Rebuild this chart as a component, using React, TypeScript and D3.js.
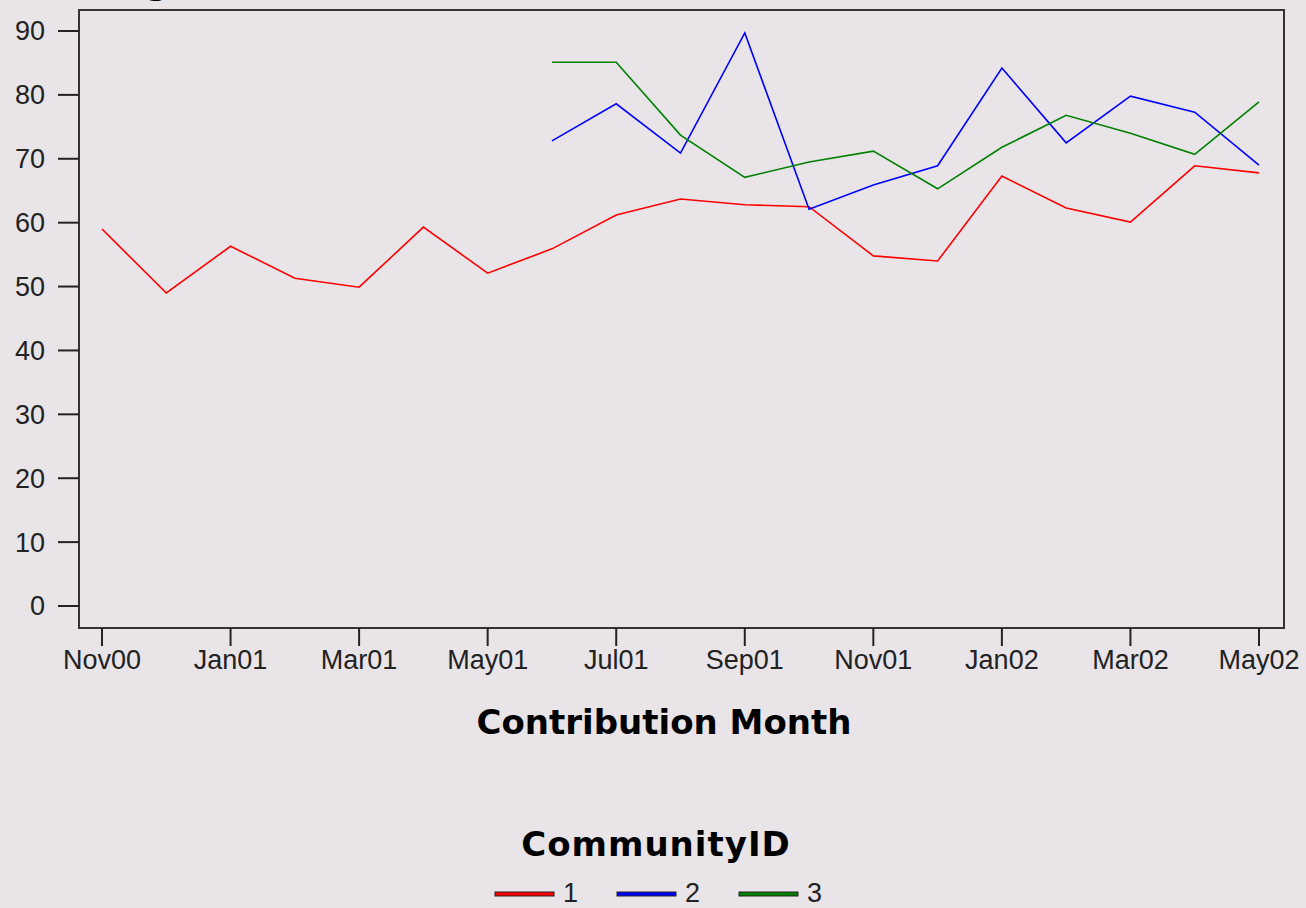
import React, { useEffect, useRef } from 'react';
import * as d3 from 'd3';

const months = ['Nov00', 'Dec00', 'Jan01', 'Feb01', 'Mar01', 'Apr01', 'May01', 'Jun01', 'Jul01', 'Aug01',
  'Sep01', 'Oct01', 'Nov01', 'Dec01', 'Jan02', 'Feb02', 'Mar02', 'Apr02', 'May02'];
const tickMonths = ['Nov00', 'Jan01', 'Mar01', 'May01', 'Jul01', 'Sep01', 'Nov01', 'Jan02', 'Mar02', 'May02'];
const yTicks = [0, 10, 20, 30, 40, 50, 60, 70, 80, 90];

const community1 = [59.0, 49.0, 56.3, 51.3, 49.9, 59.3, 52.1, 55.9, 61.2, 63.7, 62.8, 62.5, 54.8, 54.0, 67.3, 62.3, 60.1, 68.9, 67.8];
const community2 = [null, null, null, null, null, null, null, 72.8, 78.6, 70.9, 89.7, 62.1, 65.9, 68.9, 84.2, 72.5, 79.8, 77.3, 69.0];
const community3 = [null, null, null, null, null, null, null, 85.1, 85.1, 73.7, 67.1, 69.5, 71.2, 65.3, 71.8, 76.8, 74.0, 70.7, 78.9];

const seriesIds = ['1', '2', '3'];
const seriesColors = ['#ff0000', '#0000ff', '#008000'];

const W = 1306;
const H = 908;

const App: React.FC = () => {
  const svgRef = useRef<SVGSVGElement>(null);

  useEffect(() => {
    if (!svgRef.current) return;
    const svg = d3.select(svgRef.current);
    svg.selectAll('*').remove();

    const frame = { left: 79, top: 10, right: 1284, bottom: 628 };
    const x = d3.scalePoint<string>().domain(months).range([102, 1259]);
    const y = d3.scaleLinear().domain([0, 90]).range([606, 31]);

    const font = 'Liberation Sans, Arial, sans-serif';
    const boldFont = 'DejaVu Sans, Verdana, sans-serif';

    svg.append('rect').attr('width', W).attr('height', H).attr('fill', '#e8e4e8');

    // title, cut off at the top edge like in the source
    svg.append('text')
      .attr('x', 98).attr('y', -6)
      .attr('font-family', boldFont)
      .attr('font-weight', 'bold').attr('font-size', 34)
      .attr('fill', '#000')
      .text('Avg');

    // frame
    svg.append('rect')
      .attr('x', frame.left).attr('y', frame.top)
      .attr('width', frame.right - frame.left).attr('height', frame.bottom - frame.top)
      .attr('fill', 'none').attr('stroke', '#333').attr('stroke-width', 2);

    // y axis
    const yg = svg.append('g');
    yTicks.forEach((t) => {
      yg.append('line')
        .attr('x1', 58).attr('x2', frame.left).attr('y1', y(t)).attr('y2', y(t))
        .attr('stroke', '#222').attr('stroke-width', 2);
      yg.append('text')
        .attr('x', 45).attr('y', y(t)).attr('dy', '0.35em')
        .attr('text-anchor', 'end')
        .attr('font-family', font).attr('font-size', 27).attr('fill', '#222')
        .text(t);
    });

    // x axis
    const xg = svg.append('g');
    tickMonths.forEach((m) => {
      const px = x(m) as number;
      xg.append('line')
        .attr('x1', px).attr('x2', px).attr('y1', frame.bottom).attr('y2', frame.bottom + 18)
        .attr('stroke', '#222').attr('stroke-width', 2);
      xg.append('text')
        .attr('x', px).attr('y', 669)
        .attr('text-anchor', 'middle')
        .attr('font-family', font).attr('font-size', 27).attr('fill', '#222')
        .text(m);
    });

    svg.append('text')
      .attr('x', 664).attr('y', 734)
      .attr('text-anchor', 'middle')
      .attr('font-family', boldFont).attr('font-weight', 'bold').attr('font-size', 34)
      .attr('fill', '#000')
      .text('Contribution Month');

    // lines
    const line = d3.line<number | null>()
      .defined((d) => d != null)
      .x((_, i) => x(months[i]) as number)
      .y((d) => y(d as number));

    [community1, community2, community3].forEach((s, i) => {
      svg.append('path')
        .datum(s)
        .attr('fill', 'none')
        .attr('stroke', seriesColors[i])
        .attr('stroke-width', 1.6)
        .attr('d', line);
    });

    // legend
    svg.append('text')
      .attr('x', 656).attr('y', 856)
      .attr('text-anchor', 'middle')
      .attr('font-family', boldFont).attr('font-weight', 'bold').attr('font-size', 34)
      .attr('letter-spacing', 1)
      .attr('fill', '#000')
      .text('CommunityID');

    const legendX = [495, 617, 739];
    seriesIds.forEach((id, i) => {
      const lx = legendX[i];
      svg.append('rect')
        .attr('x', lx).attr('y', 892).attr('width', 59).attr('height', 4)
        .attr('fill', seriesColors[i]).attr('stroke', '#222').attr('stroke-width', 1);
      svg.append('text')
        .attr('x', lx + 68).attr('y', 902)
        .attr('font-family', font).attr('font-size', 27).attr('fill', '#222')
        .text(id);
    });
  }, []);

  return (
    <svg ref={svgRef} width={W} height={H} style={{ position: 'absolute', left: 0, top: 0, display: 'block' }} />
  );
};

export default App;
